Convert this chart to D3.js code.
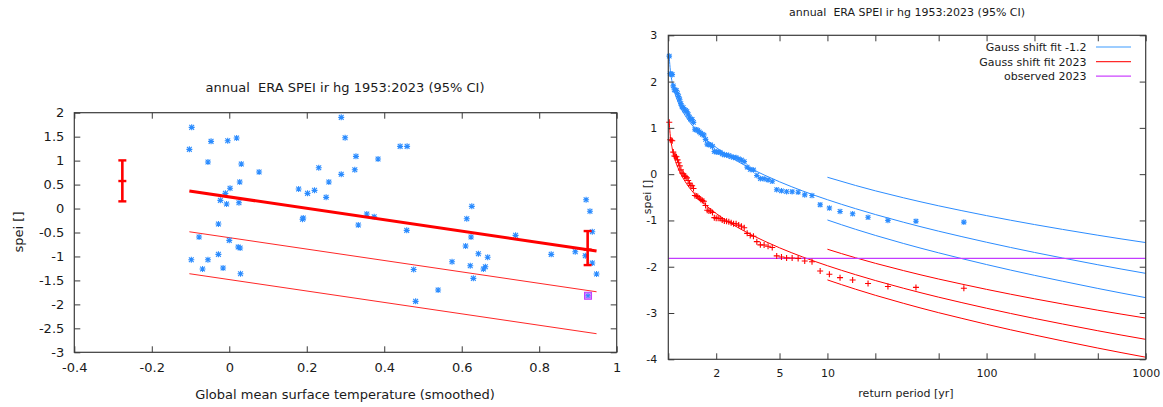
<!DOCTYPE html>
<html><head><meta charset="utf-8">
<script src="https://cdn.jsdelivr.net/npm/d3@7"></script>
<style>
body{margin:0;background:#fff}
svg{display:block}
text{font-family:"DejaVu Sans",sans-serif;fill:#1a1a1a;white-space:pre}
</style>
</head><body>
<svg id="chart" width="1163" height="407"></svg>
<script>
// ---------- Left panel data ----------
const gmst = [-0.097,-0.103,-0.047,-0.004,0.019,-0.055,0.031,0.077,0.027,0.002,-0.010,-0.023,-0.007,0.025,
  0.179,0.202,0.220,0.231,0.257,0.250,0.191,0.189,0.289,0.299,0.289,0.327,0.324,0.333,
  -0.028,-0.078,0.000,0.023,0.028,-0.098,-0.055,-0.028,-0.069,-0.016,0.029,
  0.441,0.459,0.384,0.355,0.374,0.458,0.921,0.931,0.937,0.626,0.613,0.739,0.624,0.610,0.643,0.667,
  0.831,0.893,0.919,0.937,0.575,0.622,0.661,0.656,0.476,0.630,0.539,0.481,0.948,0.926];
const spei = [1.694,1.235,1.402,1.415,1.471,0.970,0.929,0.762,0.553,0.422,0.317,0.171,0.094,0.121,
  0.407,0.317,0.380,0.851,0.553,0.234,-0.198,-0.225,1.903,1.477,0.714,1.089,0.810,-0.344,
  -0.323,-0.595,-0.664,-0.803,-0.824,-1.068,-1.068,-0.956,-1.263,-1.242,-1.361,
  1.298,1.298,1.033,-0.115,-0.171,-0.455,0.184,-0.058,-0.484,0.046,-0.213,-0.559,-0.595,-0.783,-0.943,-1.018,
  -0.956,-0.901,-0.985,-1.137,-1.110,-1.194,-1.215,-1.263,-1.273,-1.457,-1.701,-1.937,-1.367,-1.820];
const obsX = [0.926];
const obsY = [-1.82];
const fitX = [-0.103, 0.948];
const fitMean = [0.365, -0.887];
const fitRet6 = [-0.485, -1.737];
const fitRet40 = [-1.36, -2.612];
const ciX = [-0.276, 0.925];
const ciLow = [0.15, -1.18];
const ciMid = [0.574, -0.858];
const ciHigh = [1.005, -0.47];
const xTicksL = [-0.4,-0.2,0,0.2,0.4,0.6,0.8,1];
const yTicksL = [-3,-2.5,-2,-1.5,-1,-0.5,0,0.5,1,1.5,2];

// ---------- Right panel data (sorted, lowest first) ----------
const nYears = 71;
const shiftedCold = [-1.036,-1.017,-0.998,-0.932,-0.857,-0.806,-0.732,-0.661,-0.462,-0.447,
  -0.390,-0.380,-0.379,-0.359,-0.336,-0.154,-0.126,-0.101,-0.097,-0.028,
  0.090,0.104,0.151,0.271,0.306,0.329,0.358,0.361,0.380,0.400,
  0.414,0.418,0.437,0.472,0.476,0.479,0.490,0.602,0.633,0.635,
  0.649,0.752,0.845,0.859,0.885,0.914,0.948,0.959,0.970,1.119,
  1.181,1.187,1.232,1.294,1.350,1.378,1.387,1.440,1.454,1.523,
  1.608,1.675,1.739,1.806,1.818,1.822,1.907,2.151,2.161,2.172,2.55];
const shifted2023 = [-2.466,-2.447,-2.428,-2.362,-2.287,-2.236,-2.162,-2.091,-1.892,-1.877,
  -1.820,-1.810,-1.809,-1.789,-1.766,-1.584,-1.556,-1.531,-1.527,-1.458,
  -1.340,-1.326,-1.279,-1.159,-1.124,-1.101,-1.072,-1.069,-1.050,-1.030,
  -1.016,-1.012,-0.993,-0.958,-0.954,-0.951,-0.940,-0.828,-0.797,-0.795,
  -0.781,-0.678,-0.585,-0.571,-0.545,-0.516,-0.482,-0.471,-0.460,-0.311,
  -0.249,-0.243,-0.198,-0.136,-0.080,-0.052,-0.043,0.010,0.024,0.093,
  0.178,0.245,0.309,0.376,0.388,0.392,0.477,0.721,0.731,0.742,1.12];
const fitT = [1.014,1.03,1.06,1.1,1.15,1.2,1.3,1.5,1.75,2,2.5,3,4,5,7,10,15,20,30,50,70,100,200,300,500,700,1000];
const fitCold = [2.512,2.244,1.970,1.751,1.566,1.427,1.224,0.955,0.734,0.576,0.353,0.197,-0.017,-0.165,-0.364,-0.552,-0.745,-0.872,-1.038,-1.232,-1.350,-1.471,-1.691,-1.811,-1.957,-2.049,-2.143];
const fit2023 = [1.086,0.818,0.544,0.325,0.140,0.001,-0.202,-0.471,-0.692,-0.850,-1.073,-1.229,-1.443,-1.591,-1.790,-1.978,-2.171,-2.298,-2.464,-2.658,-2.776,-2.897,-3.117,-3.237,-3.383,-3.475,-3.569];
const ciT = [10,15,20,30,50,70,100,200,300,500,700,1000];
const ciColdHi = [-0.067,-0.244,-0.360,-0.510,-0.684,-0.789,-0.896,-1.089,-1.193,-1.319,-1.398,-1.478];
const ciColdLo = [-0.990,-1.191,-1.323,-1.497,-1.700,-1.825,-1.953,-2.186,-2.313,-2.469,-2.567,-2.668];
const ci2023Hi = [-1.622,-1.806,-1.926,-2.083,-2.266,-2.376,-2.489,-2.693,-2.804,-2.939,-3.023,-3.109];
const ci2023Lo = [-2.285,-2.485,-2.617,-2.790,-2.993,-3.116,-3.244,-3.475,-3.602,-3.757,-3.855,-3.955];
const observed2023 = [-1.82];
const xTicksR = [1,2,5,10,20,50,100,200,500,1000];
const xLabelsR = [2,5,10,100,1000];
const yTicksR = [-4,-3,-2,-1,0,1,2,3];
const legendLabels = ["Gauss shift fit -1.2","Gauss shift fit 2023","observed 2023"];
const legendColors = ["#3d9bff","#ff2a2a","#cc44ff"];

const BLUE = "#2b8cff", RED = "#ff0000", MAG = "#c23cff";
const svg = d3.select("#chart");

function asterisk(s){return `M${-s},0H${s}M0,${-s}V${s}M${-s*0.8},${-s*0.8}L${s*0.8},${s*0.8}M${-s*0.8},${s*0.8}L${s*0.8},${-s*0.8}`;}
function plus(s){return `M${-s},0H${s}M0,${-s}V${s}`;}

function frame(g, x, y, xt, yt, fs, fmtX, fmtY, padX, padY){
  const [y0,y1] = y.range(), [x0,x1] = x.range();
  const style = sel => { sel.select(".domain").remove();
    sel.selectAll(".tick line").attr("stroke","#3a3a3a");
    sel.selectAll("text").attr("fill","#1a1a1a");
    sel.attr("font-size",fs).attr("font-family","DejaVu Sans"); };
  g.append("g").attr("transform",`translate(0,${y0})`).call(d3.axisBottom(x).tickValues(xt).tickFormat(fmtX).tickSize(-6).tickPadding(padX)).call(style);
  g.append("g").attr("transform",`translate(0,${y1})`).call(d3.axisTop(x).tickValues(xt).tickFormat(()=>"").tickSize(-6)).call(style);
  g.append("g").attr("transform",`translate(${x0},0)`).call(d3.axisLeft(y).tickValues(yt).tickFormat(fmtY).tickSize(-6).tickPadding(padY)).call(style);
  g.append("g").attr("transform",`translate(${x1},0)`).call(d3.axisRight(y).tickValues(yt).tickFormat(()=>"").tickSize(-6)).call(style);
  g.append("rect").attr("x",x0).attr("y",y1).attr("width",x1-x0).attr("height",y0-y1)
    .attr("fill","none").attr("stroke","#3a3a3a").attr("stroke-width",1.2);
}

// ---------- Left panel ----------
const xL = d3.scaleLinear().domain([-0.4,1]).range([74.3,616.7]);
const yL = d3.scaleLinear().domain([-3,2]).range([352.3,112.7]);
const gL = svg.append("g");
const lineL = d3.line().x(d=>xL(d[0])).y(d=>yL(d[1]));
[[fitRet6,1],[fitRet40,1]].forEach(([arr,w])=>{
  gL.append("path").attr("d",lineL(fitX.map((v,i)=>[v,arr[i]]))).attr("fill","none").attr("stroke",RED).attr("stroke-width",w).attr("opacity",0.85);
});
gL.append("g").selectAll("path").data(gmst.map((v,i)=>[v,spei[i]])).join("path")
  .attr("transform",d=>`translate(${xL(d[0])},${yL(d[1])})`).attr("d",asterisk(3))
  .attr("stroke",BLUE).attr("stroke-width",1.1).attr("fill","none");
gL.append("path").attr("d",lineL(fitX.map((v,i)=>[v,fitMean[i]]))).attr("fill","none").attr("stroke",RED).attr("stroke-width",3);
ciX.forEach((cx,i)=>{
  const px = xL(cx);
  gL.append("line").attr("x1",px).attr("x2",px).attr("y1",yL(ciLow[i])).attr("y2",yL(ciHigh[i])).attr("stroke",RED).attr("stroke-width",2.6);
  [ciLow[i],ciMid[i],ciHigh[i]].forEach(v=>{
    gL.append("line").attr("x1",px-4).attr("x2",px+4).attr("y1",yL(v)).attr("y2",yL(v)).attr("stroke",RED).attr("stroke-width",2.4);
  });
});
gL.selectAll(".obs").data(obsX.map((v,i)=>[v,obsY[i]])).join("rect").attr("class","obs")
  .attr("x",d=>xL(d[0])-3.5).attr("y",d=>yL(d[1])-3.5).attr("width",7).attr("height",7)
  .attr("fill","#d98cff").attr("stroke",MAG).attr("stroke-width",1);
gL.append("path").attr("transform",`translate(${xL(obsX[0])},${yL(obsY[0])})`).attr("d",asterisk(2.5)).attr("stroke",BLUE).attr("fill","none");
frame(gL,xL,yL,xTicksL,yTicksL,13,d=>String(d),d=>String(d),10,10);
svg.append("text").attr("x",345).attr("y",91.5).attr("text-anchor","middle").attr("font-size",13).text("annual  ERA SPEI ir hg 1953:2023 (95% CI)");
svg.append("text").attr("x",345).attr("y",398.5).attr("text-anchor","middle").attr("font-size",13).text("Global mean surface temperature (smoothed)");
svg.append("text").attr("transform","translate(22.5,232) rotate(-90)").attr("text-anchor","middle").attr("font-size",13).text("spei []");

// ---------- Right panel ----------
const xR = d3.scaleLog().domain([1,1000]).range([668.3,1145.7]);
const yR = d3.scaleLinear().domain([-4,3]).range([359.3,35.3]);
const gR = svg.append("g");
const lineR = d3.line().x(d=>xR(d[0])).y(d=>yR(d[1])).curve(d3.curveMonotoneX);
const drawCurve = (T,arr,col)=>gR.append("path").attr("d",lineR(T.map((t,i)=>[t,arr[i]]))).attr("fill","none").attr("stroke",col).attr("stroke-width",1);
drawCurve(fitT,fitCold,BLUE); drawCurve(ciT,ciColdHi,BLUE); drawCurve(ciT,ciColdLo,BLUE);
drawCurve(fitT,fit2023,RED); drawCurve(ciT,ci2023Hi,RED); drawCurve(ciT,ci2023Lo,RED);
gR.append("line").attr("x1",xR(1)).attr("x2",xR(1000)).attr("y1",yR(observed2023[0])).attr("y2",yR(observed2023[0])).attr("stroke",MAG).attr("stroke-width",1.2);
const rp = rank => (nYears+1)/rank;
gR.append("g").selectAll("path").data(shiftedCold).join("path")
  .attr("transform",(d,i)=>`translate(${xR(rp(i+1))},${yR(d)})`).attr("d",asterisk(2.8))
  .attr("stroke",BLUE).attr("stroke-width",1.1).attr("fill","none");
gR.append("g").selectAll("path").data(shifted2023).join("path")
  .attr("transform",(d,i)=>`translate(${xR(rp(i+1))},${yR(d)})`).attr("d",plus(3))
  .attr("stroke",RED).attr("stroke-width",1.1).attr("fill","none");
frame(gR,xR,yR,xTicksR,yTicksR,11,d=>xLabelsR.includes(d)?String(d):"",d=>String(d),10,11);
svg.append("text").attr("x",907).attr("y",16).attr("text-anchor","middle").attr("font-size",11).text("annual  ERA SPEI ir hg 1953:2023 (95% CI)");
svg.append("text").attr("x",906).attr("y",397).attr("text-anchor","middle").attr("font-size",11).text("return period [yr]");
svg.append("text").attr("transform","translate(651,197) rotate(-90)").attr("text-anchor","middle").attr("font-size",11).text("spei []");
const lg = svg.append("g");
legendLabels.forEach((t,i)=>{
  const yy = 47 + i*14.6;
  lg.append("text").attr("x",1086.5).attr("y",yy+4).attr("text-anchor","end").attr("font-size",11).text(t);
  lg.append("line").attr("x1",1096).attr("x2",1131).attr("y1",yy).attr("y2",yy).attr("stroke",legendColors[i]).attr("stroke-width",1.2);
});
</script>
</body></html>
